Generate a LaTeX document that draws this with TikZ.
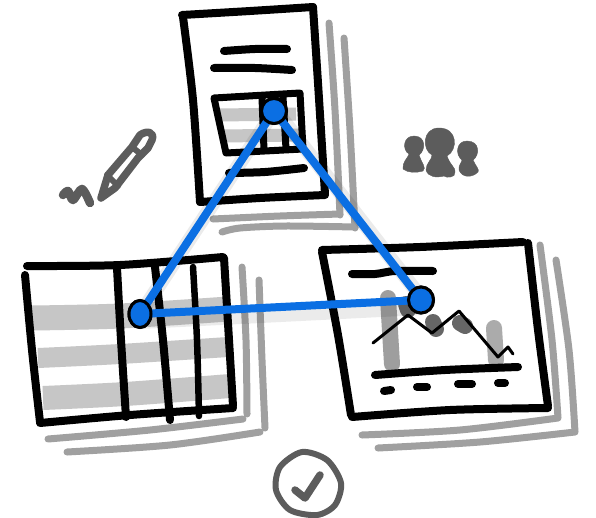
\documentclass[tikz,border=0pt]{standalone}
\usetikzlibrary{calc,shapes.geometric}
\definecolor{inkgray}{HTML}{5C5C5C}
\definecolor{stackgray}{HTML}{A0A0A0}
\definecolor{bandgray}{HTML}{C6C6C6}
\definecolor{linkblue}{HTML}{0B6FE3}
\tikzset{
  ink/.style={draw=black,line width=8pt,line cap=round,line join=round},
  stack/.style={draw=stackgray,line width=7pt,line cap=round,line join=round},
  band/.style={draw=bandgray,line width=#1,line cap=butt},
  bar/.style={draw=black,draw opacity=#1,line width=16pt,line cap=round},
  sketch/.style={draw=inkgray,line width=7.5pt,line cap=round,line join=round},
  hub/.style={ellipse,draw=black,line width=3pt,fill=linkblue,inner sep=0pt,minimum width=#1},
  link/.style={draw=linkblue,line width=8pt,line cap=round},
  linkshade/.style={draw=black,draw opacity=.08,line width=14pt}
}
\begin{document}
\begin{tikzpicture}[x=1pt,y=-1pt]
\useasboundingbox (0,0) rectangle (596,517);
\fill[white] (0,0) rectangle (596,517);
% stacked-sheet edges
\draw[stack] plot[smooth] coordinates {(329,23) (335,110) (340,215)} -- plot[smooth] coordinates {(340,214) (280,216) (213,219)};
\draw[stack] plot[smooth] coordinates {(344,38) (350,130) (355,228)} -- plot[smooth] coordinates {(355,227) (285,226) (240,228) (222,232)};
\draw[stack] plot[smooth] coordinates {(242,267) (246,340) (247,414)};
\draw[stack] plot[smooth] coordinates {(243,419) (150,430) (48,439)};
\draw[stack] plot[smooth] coordinates {(259,280) (262,360) (265,428)};
\draw[stack] plot[smooth] coordinates {(260,432) (170,445) (67,452)};
\draw[stack] plot[smooth] coordinates {(540,245) (552,340) (558,418)} -- plot[smooth] coordinates {(558,418) (460,430) (362,435)};
\draw[stack] plot[smooth] coordinates {(556,260) (569,350) (575,432)} -- plot[smooth] coordinates {(575,432) (480,442) (378,448)};
% table bands
\draw[band=25pt] plot[smooth] coordinates {(32,318) (120,316) (228,309)};
\draw[band=20pt] plot[smooth] coordinates {(38,358) (120,354) (228,347)};
\draw[band=24pt] plot[smooth] coordinates {(43,398) (125,394) (230,386)};
\draw[band=13pt] plot[smooth] coordinates {(219,115) (296,114)};
\draw[band=13pt] plot[smooth] coordinates {(223,136) (300,135)};
% document
\draw[ink] plot[smooth] coordinates {(182,15) (250,11) (313,7)};
\draw[ink] plot[smooth] coordinates {(313,7) (318,83) (325,194)};
\draw[ink] plot[smooth] coordinates {(325,195) (260,198) (200,202)};
\draw[ink] plot[smooth] coordinates {(200,202) (193,100) (183,17)};
\draw[ink] plot[smooth] coordinates {(224,51) (255,49) (287,49)};
\draw[ink] plot[smooth] coordinates {(214,68) (255,68) (292,70)};
\draw[ink,line width=7pt] (214,98) -- (300,93) -- (303,149) -- (226,153) -- cycle;
\draw[ink,line width=7pt] (262,98) -- (264,150);
\draw[ink,line width=7pt] (283,97) -- (286,149);
\draw[ink] plot[smooth] coordinates {(229,173) (265,172) (304,168)};
% table
\draw[ink] plot[smooth] coordinates {(27,266) (120,265) (223,257)};
\draw[ink] plot[smooth] coordinates {(224,258) (229,340) (233,406)};
\draw[ink] plot[smooth] coordinates {(233,408) (130,415) (40,423)};
\draw[ink] plot[smooth] coordinates {(40,422) (32,350) (25,275)};
\draw[ink] plot[smooth] coordinates {(117,268) (121,340) (126,417)};
\draw[ink] plot[smooth] coordinates {(155,267) (163,340) (170,420)};
\draw[ink,line width=6.5pt] plot[smooth] coordinates {(193,267) (197,340) (199,416)};
% chart
\draw[bar=.38] (388,298) -- (392,364);
\draw[bar=.6] (406,304) -- (408,310);
\draw[bar=.6] (433,322) -- (436,329);
\draw[bar=.6] (460,323) -- (465,326);
\draw[bar=.33] (494,328) -- (496,360);
\draw[ink] plot[smooth] coordinates {(322,250) (420,247) (523,242)};
\draw[ink] plot[smooth] coordinates {(528,243) (538,330) (548,406)};
\draw[ink] plot[smooth] coordinates {(548,408) (450,410) (352,417)};
\draw[ink] plot[smooth] coordinates {(351,415) (338,335) (322,252)};
\draw[ink] plot[smooth] coordinates {(352,274) (375,274) (395,271) (433,271)};
\draw[draw=black,line width=3pt,line cap=round,line join=round] (373,343) -- (408,315) -- (432,333) -- (459,311) -- (498,357) -- (508,347) -- (513,354);
\draw[ink] plot[smooth] coordinates {(375,375) (445,370) (518,367)};
\draw[ink] (384,391) -- (391,390);
\draw[ink] (417,387) -- (427,387);
\draw[ink] (458,384) -- (472,384);
\draw[ink] (498,383) -- (505,383);
% pencil
\draw[sketch] (101,198) -- (108,175) -- (132,147) -- (140,135) .. controls (147,130) and (155,132) .. (152,140) -- (148,148) -- (138,158) -- (115,188) -- cycle;
\draw[sketch,line width=6pt] (107,175) -- (118,186);
\draw[sketch,line width=6pt] (132,147) -- (142,155);
\draw[sketch,line width=8.5pt] plot[smooth] coordinates {(63,195) (68,191) (73,200) (82,189) (90,203)};
% people
\fill[inkgray,draw=inkgray] (414,136) .. controls (426,136) and (426,150) .. (419,155) .. controls (421,162) and (427,168) .. (423,171) .. controls (416,173) and (408,173) .. (403,169) .. controls (402,162) and (408,158) .. (409,154) .. controls (402,150) and (403,136) .. (414,136) -- cycle;
\fill[inkgray,draw=inkgray] (439,128) .. controls (458,128) and (458,150) .. (447,156) .. controls (450,165) and (456,168) .. (455,172) .. controls (456,178) and (446,178) .. (444,176) .. controls (436,178) and (428,177) .. (426,170) .. controls (426,163) and (432,160) .. (432,155) .. controls (422,150) and (422,128) .. (439,128) -- cycle;
\fill[inkgray,draw=inkgray] (467,141) .. controls (480,141) and (480,155) .. (473,160) .. controls (475,165) and (480,170) .. (478,172) .. controls (472,178) and (462,178) .. (459,170) .. controls (458,166) and (462,162) .. (462,160) .. controls (455,155) and (456,141) .. (467,141) -- cycle;
% tick
\draw[sketch,line width=6pt] plot[smooth cycle] coordinates {(302,452) (327,460) (341,483) (335,505) (317,515) (290,510) (276,490) (280,467)};
\draw[sketch,line width=7.5pt] (295,490) -- (305,498) -- (320,475);
% links
\path (274,111) coordinate (topc) (140,314) coordinate (leftc) (421,300) coordinate (rightc);
\draw[linkshade] ($(topc)+(-5,8)$) -- ($(leftc)+(-5,8)$);
\draw[linkshade] ($(topc)+(6,5)$) -- ($(rightc)+(6,5)$);
\draw[linkshade] ($(leftc)+(0,8)$) -- ($(rightc)+(0,8)$);
\node[hub=25pt,minimum height=25pt] (top) at (topc) {};
\node[hub=22pt,minimum height=27pt] (left) at (leftc) {};
\node[hub=25pt,minimum height=26pt] (right) at (rightc) {};
\draw[link,shorten <=-4pt,shorten >=-4pt] (top) -- (left);
\draw[link,shorten <=-4pt,shorten >=-4pt] (top) -- (right);
\draw[link,shorten <=-4pt,shorten >=-4pt] (left) -- (right);
\node[hub=25pt,minimum height=25pt] at (topc) {};
\node[hub=22pt,minimum height=27pt] at (leftc) {};
\node[hub=25pt,minimum height=26pt] at (rightc) {};
\end{tikzpicture}
\end{document}
